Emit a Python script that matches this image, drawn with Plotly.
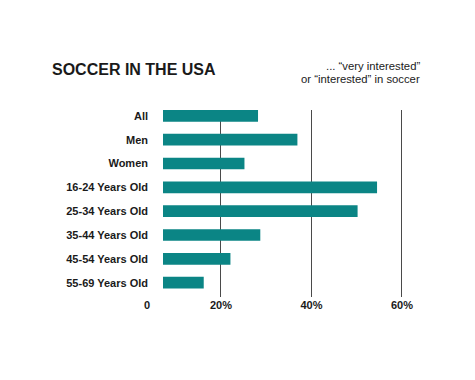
import plotly.graph_objects as go

categories = ["All", "Men", "Women", "16-24 Years Old", "25-34 Years Old",
              "35-44 Years Old", "45-54 Years Old", "55-69 Years Old"]
values = [28.2, 36.9, 25.2, 54.5, 50.2, 28.7, 22.1, 16.2]
tick_vals = [20, 40, 60]
tick_text = ["20%", "40%", "60%"]

TEAL = "#0b8585"
TXT = "#1a1a1a"
FONT = "Liberation Sans, Arial, sans-serif"

# page body has an 8px margin, so the figure is laid out 8px smaller
W, H = 467, 372
PL, PR, PT, PB = 155, 422, 102, 289  # plot area in figure px
PW, PH = PR - PL, PB - PT

fig = go.Figure(go.Bar(
    x=values, y=categories, orientation="h",
    marker=dict(color=TEAL, line=dict(width=0)),
    width=0.49,
))

fig.update_layout(
    width=W, height=H,
    margin=dict(l=PL, r=W - PR, t=PT, b=H - PB, pad=0),
    paper_bgcolor="white", plot_bgcolor="white",
    showlegend=False,
    font=dict(family=FONT, color=TXT),
    title=dict(text="<b>SOCCER IN THE USA</b>", x=44 / W, xanchor="left",
               y=1 - 61 / H, yanchor="middle", yref="container",
               font=dict(size=16, color=TXT, family=FONT)),
    xaxis=dict(range=[7.2, 66.2], tickvals=tick_vals, ticktext=tick_text,
               showgrid=True, gridcolor="#4a4a4a", gridwidth=1.3,
               zeroline=False, showline=False, ticks="",
               tickfont=dict(size=11, color=TXT, family=FONT, weight="bold"),
               ticklabelstandoff=0, fixedrange=True),
    yaxis=dict(type="category", categoryorder="array", categoryarray=categories,
               range=[7.6, -0.245], showgrid=False, zeroline=False, showline=False,
               ticks="", ticklabelstandoff=14,
               tickfont=dict(size=11, color=TXT, family=FONT, weight="bold")),
    bargap=0.5,
)

def px(xpix):
    return (xpix - 8 - PL) / PW

def py(ypix):
    return (PB - (ypix - 8)) / PH

fig.add_annotation(text="<b>0</b>", xref="paper", yref="paper",
                   x=px(146.7), y=py(305),
                   xanchor="center", yanchor="middle", showarrow=False,
                   font=dict(size=11, color=TXT, family=FONT))
fig.add_annotation(text="... “very interested”", xref="paper", yref="paper",
                   x=px(422), y=py(65.7),
                   xanchor="right", yanchor="middle", showarrow=False,
                   font=dict(size=11.3, color=TXT, family=FONT))
fig.add_annotation(text="or “interested” in soccer", xref="paper", yref="paper",
                   x=px(422), y=py(79),
                   xanchor="right", yanchor="middle", showarrow=False,
                   font=dict(size=11.3, color=TXT, family=FONT))

fig.write_html("out.html")
